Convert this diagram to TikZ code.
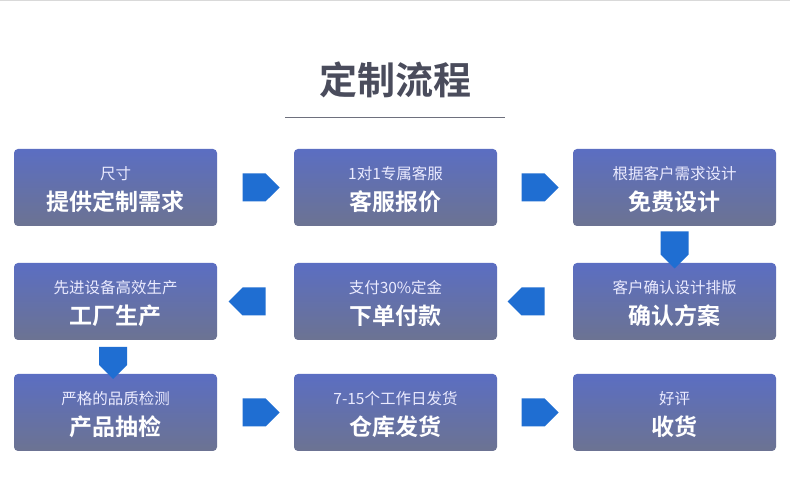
\documentclass[tikz,border=0pt]{standalone}
\usepackage{fontspec}
\newfontfamily\cjk{Noto Sans CJK SC}
\newfontfamily\cjkb{Noto Sans CJK SC Bold}
\usetikzlibrary{shapes.arrows}
\definecolor{boxtop}{HTML}{5B6EC2}
\definecolor{boxbot}{HTML}{6C7392}
\definecolor{arr}{HTML}{1F6ED2}
\definecolor{ttl}{HTML}{4A4C5C}
\begin{document}
\begin{tikzpicture}[x=1pt,y=-1pt,
 box/.style={rounded corners=4pt,top color=boxtop,bottom color=boxbot,draw=none,minimum width=203pt,minimum height=77pt,inner sep=0pt},
 ar/.style={single arrow,fill=arr,draw=none,minimum height=37pt,minimum width=28pt,single arrow head extend=0pt,single arrow tip angle=90,inner sep=3pt}]
\useasboundingbox[fill=white] (0,0) rectangle (790,502);
\draw[gray!30] (0,0.5) -- (790,0.5);
\node[text=ttl,font=\cjkb\fontsize{38}{40}\selectfont] (title) at (395,80) {定制流程};
\draw[ttl!80,line width=0.8pt] (285,117) -- (505,117);
\foreach \n/\x/\y/\a/\b in {
 b1/115.5/187.5/提供定制需求/尺寸/印刷/工艺,
 b2/395.5/187.5/客服报价/1对1专属客服,
 b3/674.5/187.5/免费设计/根据客户需求设计,
 b4/115.5/301.5/工厂生产/先进设备高效生产,
 b5/395.5/301.5/下单付款/支付30\%定金,
 b6/674.5/301.5/确认方案/客户确认设计排版,
 b7/115.5/412.5/产品抽检/严格的品质检测,
 b8/395.5/412.5/仓库发货/7-15个工作日发货,
 b9/674.5/412.5/收货/好评/客户验收确认收货}{
 \node[box] (\n) at (\x,\y) {};
 \node[text=white,font=\cjkb\fontsize{23}{25}\selectfont] at ([yshift=-14pt]\n.center) {\a};
 \node[text=white!92!blue,font=\cjk\fontsize{15.5}{17}\selectfont] at ([yshift=14pt]\n.center) {\b};
}
\node[ar] (a12) at (254,187.5) {};
\node[ar] (a23) at (533,187.5) {};
\node[ar,shape border rotate=270] (a36) at (674.5,243) {};
\node[ar,shape border rotate=180] (a65) at (533,301.5) {};
\node[ar,shape border rotate=180] (a54) at (254,301.5) {};
\node[ar,shape border rotate=270,minimum height=32pt] (a47) at (113,356) {};
\node[ar] (a78) at (254,412.5) {};
\node[ar] (a89) at (533,412.5) {};
\end{tikzpicture}
\end{document}
